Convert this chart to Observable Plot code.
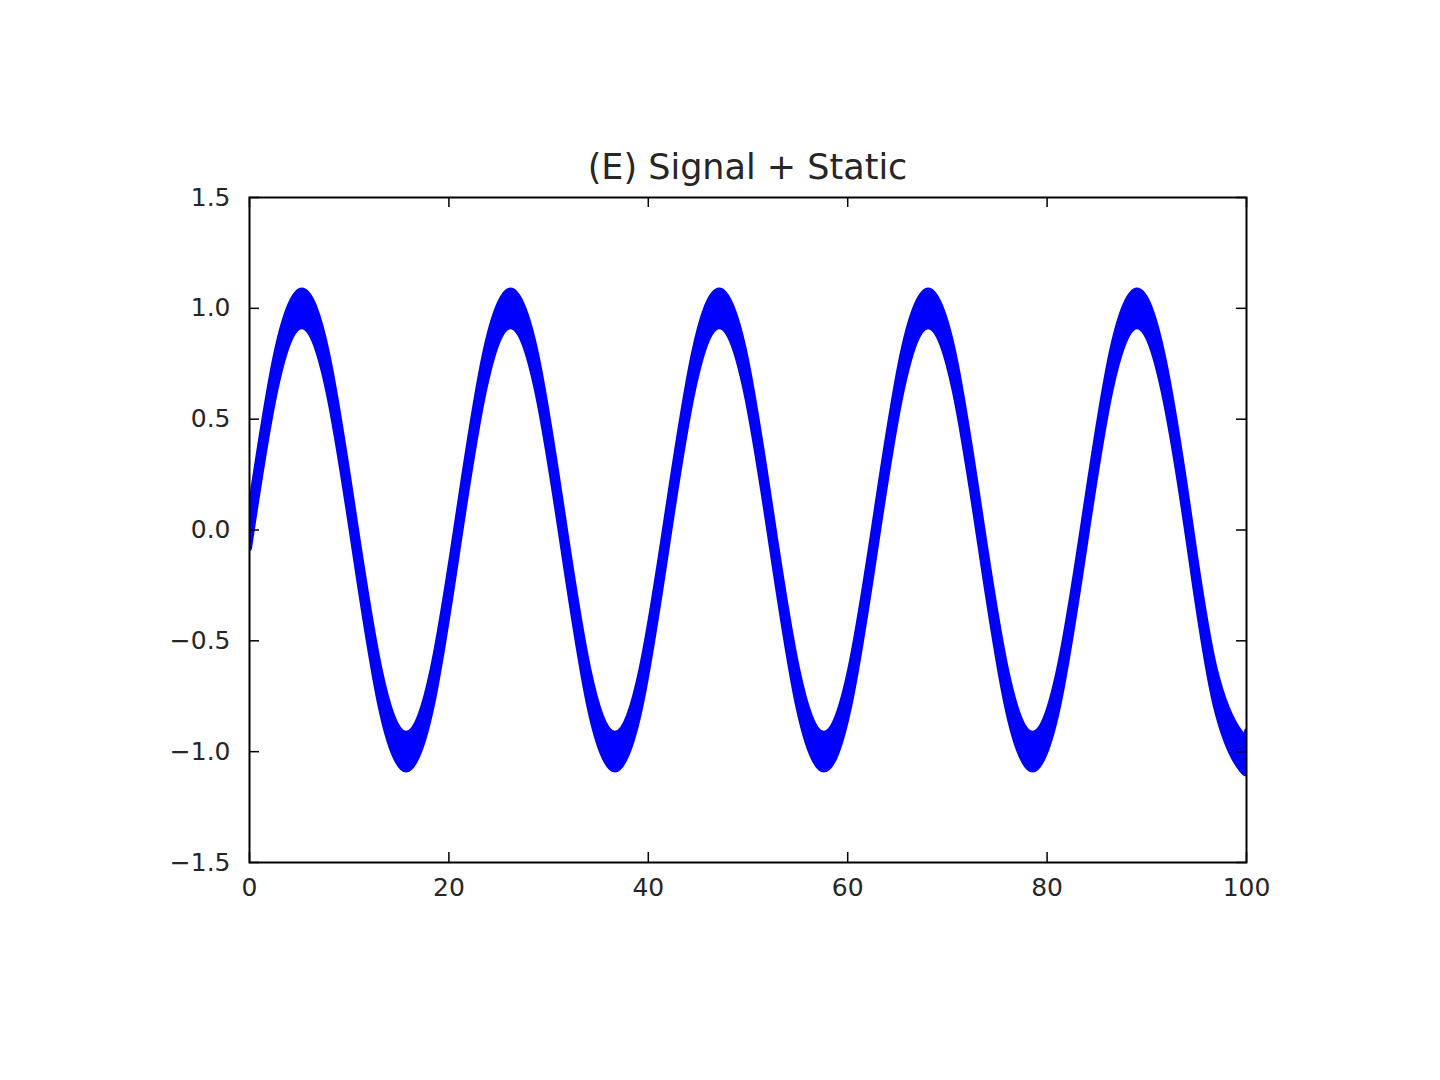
<!DOCTYPE html>
<html>
<head>
<meta charset="utf-8">
<script src="https://cdn.jsdelivr.net/npm/d3@7"></script>
<script src="https://cdn.jsdelivr.net/npm/@observablehq/plot@0.6"></script>
<style>
  html, body { margin: 0; padding: 0; background: #ffffff; }
  #wrap { position: relative; width: 1440px; height: 1080px; background: #ffffff; }
  #title { position: absolute; left: 249px; width: 997px; top: 150px; text-align: center;
           font-family: "DejaVu Sans", sans-serif; font-size: 35px; line-height: 35px; color: #262626; }
  #chart { position: absolute; left: 0; top: 0; }
</style>
</head>
<body>
<div id="wrap">
  <div id="chart"></div>
  <div id="title">(E) Signal + Static</div>
</div>
<script>
// Signal samples (x position, centre of the blue band)
const xValues = [0, 2.62, 5.24, 7.85, 10.47, 13.09, 15.71, 18.33, 20.94, 23.56, 26.18, 28.80, 31.42, 34.03, 36.65, 39.27, 41.89, 44.51, 47.12, 49.74, 52.36, 54.98, 57.60, 60.21, 62.83, 65.45, 68.07, 70.69, 73.30, 75.92, 78.54, 81.16, 83.78, 86.39, 89.01, 91.63, 94.25, 96.87, 99.48, 100];
const signalValues = [0, 0.71, 1, 0.71, 0, -0.71, -1, -0.71,
                      0, 0.71, 1, 0.71, 0, -0.71, -1, -0.71,
                      0, 0.71, 1, 0.71, 0, -0.71, -1, -0.71,
                      0, 0.71, 1, 0.71, 0, -0.71, -1, -0.71,
                      0, 0.71, 1, 0.71, 0, -0.71, -1, -0.99];
// Half-height of the static band around the signal
const staticAmplitude = 0.083;
const xTicks = [0, 20, 40, 60, 80, 100];
const yTicks = [-1.5, -1.0, -0.5, 0.0, 0.5, 1.0, 1.5];

const data = xValues.map((x, i) => ({x, y: signalValues[i], lo: signalValues[i] - staticAmplitude, hi: signalValues[i] + staticAmplitude}));

const fmtY = d => d.toFixed(1).replace("-", "\u2212");
const frameW = 1440 - 249 - 194;
const frameH = 1080 - 197 - 218;
const tickLen = 10;
const bandStroke = 5;

const chart = Plot.plot({
  width: 1440,
  height: 1080,
  marginLeft: 249,
  marginRight: 194,
  marginTop: 197,
  marginBottom: 218,
  style: {fontFamily: "DejaVu Sans, sans-serif", fontSize: "25px", color: "#262626", background: "#ffffff"},
  x: {domain: [0, 100], ticks: xTicks, tickSize: 0, tickPadding: 16, tickFormat: d => String(d), label: null},
  y: {domain: [-1.5, 1.5], ticks: yTicks, tickSize: 0, tickPadding: 19, tickFormat: fmtY, label: null},
  marks: [
    Plot.areaY(data, {x: "x", y1: "lo", y2: "hi", curve: "natural", fill: "#0000ff", clip: true}),
    Plot.line(data, {x: "x", y: "hi", curve: "natural", stroke: "#0000ff", strokeWidth: bandStroke, clip: true}),
    Plot.line(data, {x: "x", y: "lo", curve: "natural", stroke: "#0000ff", strokeWidth: bandStroke, clip: true}),
    Plot.line(data, {x: "x", y: "y", curve: "natural", stroke: "#0000ff", strokeWidth: bandStroke, clip: true}),
    // inward ticks on all four sides
    Plot.ruleX(xTicks, {x: d => d, insetTop: frameH - tickLen, stroke: "#000", strokeWidth: 1.5}),
    Plot.ruleX(xTicks, {x: d => d, insetBottom: frameH - tickLen, stroke: "#000", strokeWidth: 1.5}),
    Plot.ruleY(yTicks, {y: d => d, insetRight: frameW - tickLen, stroke: "#000", strokeWidth: 1.5}),
    Plot.ruleY(yTicks, {y: d => d, insetLeft: frameW - tickLen, stroke: "#000", strokeWidth: 1.5}),
    Plot.frame({stroke: "#000", strokeWidth: 2})
  ]
});
document.getElementById("chart").appendChild(chart);
</script>
</body>
</html>
